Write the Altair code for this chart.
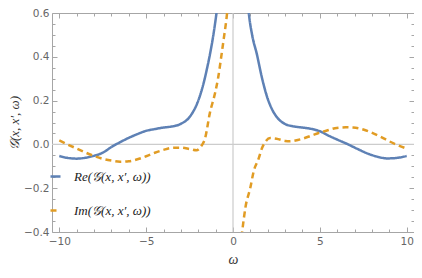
import altair as alt
import pandas as pd

# ---- data ----
series_names = ["Re(𝒢(x, x′, ω))", "Im(𝒢(x, x′, ω))"]

re_left_x = [-10, -9.5, -9, -8.5, -8, -7.5, -7, -6.5, -6, -5.5, -5, -4.5, -4, -3.5, -3,
             -2.5, -2, -1.7, -1.5, -1.33, -1.15, -0.95, -0.8]
re_left_y = [-0.053, -0.062, -0.065, -0.061, -0.052, -0.038, -0.012, 0.010, 0.030, 0.047,
             0.062, 0.070, 0.077, 0.082, 0.094, 0.125, 0.200, 0.277, 0.345, 0.410, 0.490,
             0.600, 0.700]

re_right_x = [0.8, 0.91, 1.1, 1.38, 1.65, 1.95, 2.25, 2.52, 3.0, 3.5, 4.0, 4.5, 5.0, 5.5,
              6.0, 6.63, 7.2, 7.76, 8.3, 8.9, 9.5, 10]
re_right_y = [0.700, 0.600, 0.500, 0.410, 0.310, 0.220, 0.160, 0.125, 0.093, 0.082, 0.077,
              0.071, 0.060, 0.040, 0.022, 0.000, -0.022, -0.042, -0.056, -0.064, -0.061,
              -0.053]

im_left_x = [-10, -9.5, -9, -8.5, -8, -7.5, -7, -6.5, -6, -5.5, -5, -4.5, -4, -3.5, -3,
             -2.5, -2.1, -1.85, -1.6, -1.33, -1.04, -0.85, -0.66, -0.53, -0.34, -0.25]
im_left_y = [0.018, -0.001, -0.019, -0.037, -0.053, -0.066, -0.074, -0.079, -0.077,
             -0.068, -0.054, -0.038, -0.025, -0.016, -0.015, -0.021, -0.027, -0.010, 0.030,
             0.144, 0.232, 0.307, 0.410, 0.484, 0.600, 0.680]

im_right_x = [0.42, 0.53, 0.72, 1.0, 1.19, 1.48, 1.66, 1.85, 2.14, 2.5, 3.0, 3.27, 3.6, 4.0,
              4.51, 5.0, 5.5, 5.87, 6.5, 6.91, 7.5, 7.95, 8.5, 8.9, 9.38, 10]
im_right_y = [-0.470, -0.397, -0.286, -0.197, -0.123, -0.064, -0.019, 0.010, 0.029, 0.026,
              0.016, 0.014, 0.018, 0.026, 0.040, 0.054, 0.066, 0.074, 0.078, 0.077, 0.068,
              0.055, 0.035, 0.018, 0.000, -0.019]

x_major = [-10, -5, 0, 5, 10]
x_minor = [v for v in range(-10, 11) if v % 5 != 0]
y_major = [-0.4, -0.2, 0.0, 0.2, 0.4, 0.6]
y_minor = [-0.35, -0.3, -0.25, -0.15, -0.1, -0.05, 0.05, 0.1, 0.15, 0.25, 0.3, 0.35,
           0.45, 0.5, 0.55]

# ---- table ----
rows = []
for name, seg, xs, ys in [
    (series_names[0], "re_l", re_left_x, re_left_y),
    (series_names[0], "re_r", re_right_x, re_right_y),
    (series_names[1], "im_l", im_left_x, im_left_y),
    (series_names[1], "im_r", im_right_x, im_right_y),
]:
    for xv, yv in zip(xs, ys):
        rows.append({"series": name, "seg": seg, "x": xv, "y": yv})
df = pd.DataFrame(rows)

BLUE = "#5E81B5"
ORANGE = "#E19C24"
FRAME = "#a6a6a6"
LABEL = "#666666"

xscale = alt.Scale(domain=[-10.42, 10.42], nice=False, zero=False)
yscale = alt.Scale(domain=[-0.4, 0.6], nice=False, zero=False)

common_axis = dict(domain=False, grid=False, tickColor=FRAME, tickWidth=1)

ax_bottom_major = alt.Axis(orient="bottom", values=x_major, offset=-5, tickSize=5,
                           labelPadding=4, labelFont="DejaVu Sans", labelFontSize=10.5,
                           labelColor=LABEL, format="d", title="ω", titleFont="Liberation Serif",
                           titleFontStyle="italic", titleFontWeight="normal", titleFontSize=14,
                           titleColor="#333333", titlePadding=6, **common_axis)
ax_left_major = alt.Axis(orient="left", values=y_major, offset=-5, tickSize=5,
                         labelPadding=3, labelFont="DejaVu Sans", labelFontSize=10.5,
                         labelColor=LABEL, format=".1f", title="𝒢(x, x′, ω)",
                         titleFont="Liberation Serif", titleFontStyle="italic",
                         titleFontWeight="normal", titleFontSize=13, titleColor="#333333",
                         titlePadding=2, **common_axis)
ax_bottom_minor = alt.Axis(orient="bottom", values=x_minor, offset=-3, tickSize=3,
                           labels=False, title=None, **common_axis)
ax_left_minor = alt.Axis(orient="left", values=y_minor, offset=-3, tickSize=3,
                         labels=False, title=None, **common_axis)
ax_top_major = alt.Axis(orient="top", values=x_major, offset=-5, tickSize=5,
                        labels=False, title=None, **common_axis)
ax_right_major = alt.Axis(orient="right", values=y_major, offset=-5, tickSize=5,
                          labels=False, title=None, **common_axis)
ax_top_minor = alt.Axis(orient="top", values=x_minor, offset=-3, tickSize=3,
                        labels=False, title=None, **common_axis)
ax_right_minor = alt.Axis(orient="right", values=y_minor, offset=-3, tickSize=3,
                          labels=False, title=None, **common_axis)

zero_x = pd.DataFrame({"x": [0.0]})
zero_y = pd.DataFrame({"y": [0.0]})

rule_v = alt.Chart(zero_x).mark_rule(color="#cccccc", strokeWidth=1.2).encode(
    x=alt.X("x:Q", scale=xscale, axis=ax_bottom_major)
)
rule_h = alt.Chart(zero_y).mark_rule(color="#cccccc", strokeWidth=1.2).encode(
    y=alt.Y("y:Q", scale=yscale, axis=ax_left_major)
)

legend = alt.Legend(orient="none", legendX=-3, legendY=157, title=None,
                    symbolType="stroke", symbolSize=100, symbolStrokeWidth=2.5,
                    labelFont="Liberation Serif", labelFontSize=13, labelFontStyle="italic",
                    labelColor="#222222", rowPadding=20, labelOffset=12)

lines = alt.Chart(df).mark_line(clip=True, strokeWidth=2.5, interpolate="monotone").encode(
    x=alt.X("x:Q", scale=xscale, axis=ax_bottom_minor),
    y=alt.Y("y:Q", scale=yscale, axis=ax_left_minor),
    color=alt.Color("series:N", scale=alt.Scale(domain=series_names, range=[BLUE, ORANGE]),
                    legend=legend),
    strokeDash=alt.StrokeDash("series:N",
                              scale=alt.Scale(domain=series_names, range=[[1, 0], [6, 4]]),
                              legend=legend),
    detail="seg:N",
)

ghost1 = alt.Chart(df).mark_point(opacity=0, size=1).encode(
    x=alt.X("x:Q", scale=xscale, axis=ax_top_major),
    y=alt.Y("y:Q", scale=yscale, axis=ax_right_major),
)
ghost2 = alt.Chart(df).mark_point(opacity=0, size=1).encode(
    x=alt.X("x:Q", scale=xscale, axis=ax_top_minor),
    y=alt.Y("y:Q", scale=yscale, axis=ax_right_minor),
)

chart = alt.layer(rule_v, rule_h, lines, ghost1, ghost2).resolve_axis(
    x="independent", y="independent"
).properties(
    width=362, height=219,
    autosize=alt.AutoSizeParams(type="none"),
    padding={"left": 44, "top": 5, "right": 0, "bottom": 38},
).configure_view(stroke=FRAME, strokeWidth=1)

chart.save("out.html", embed_options={"renderer": "svg", "actions": False})
